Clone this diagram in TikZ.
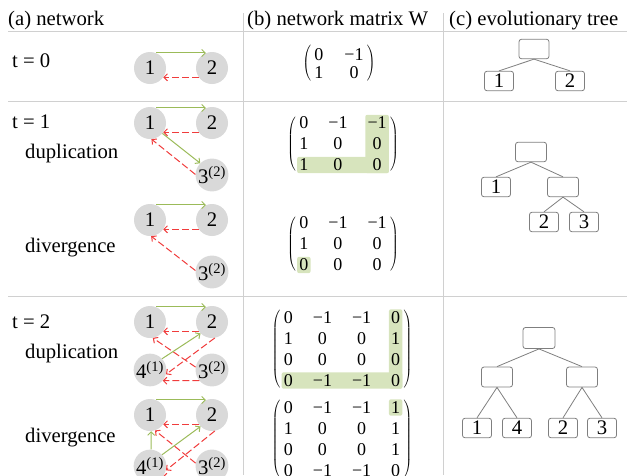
\documentclass[tikz,border=0pt]{standalone}
\usepackage{fontspec}
\setmainfont{Liberation Serif}
\usepackage{tikz}
\usetikzlibrary{arrows.meta, matrix, backgrounds}
\definecolor{actgreen}{HTML}{9BBB59}
\definecolor{repred}{HTML}{F03C3C}
\definecolor{nodegray}{HTML}{D9D9D9}
\definecolor{hlgreen}{HTML}{D7E4BD}
\definecolor{rulegray}{HTML}{D0D0D0}
\definecolor{treegray}{HTML}{7F7F7F}

\begin{document}
\begin{tikzpicture}
	[   x=1pt, y=-1pt,
		font=\fontsize{20.7}{24}\selectfont,
		cnode/.style={circle,fill=nodegray,minimum size=32pt,inner sep=0pt},
		tnode/.style={draw=treegray,line width=0.8pt,rounded corners=2.5pt,minimum width=#1,minimum height=19.5pt,inner sep=0pt},
		tnode/.default=29pt,
		lbl/.style={anchor=base west,inner sep=0pt},
		wmat/.style={matrix of nodes,column sep=16pt,row sep=5pt,inner sep=0pt,
			left delimiter=(,right delimiter=),
			every left delimiter/.style={xshift=3pt},
			every right delimiter/.style={xshift=-3pt},
			font=\fontsize{18}{21}\selectfont,
			nodes={font=\fontsize{18}{21}\selectfont,inner xsep=2pt,inner ysep=1pt,text height=12.5pt,text depth=1.5pt}},
	]
	\tikzset{act arrow/.style={draw=actgreen,line width=1pt,-{Straight Barb[length=3.5pt,width=7pt]}},
		rep arrow/.style={draw=repred,line width=1pt,dash pattern=on 7pt off 3pt,-{Straight Barb[length=3.5pt,width=7pt]}}}
	\useasboundingbox (0,0) rectangle (627,475);
	\clip (0,0) rectangle (627,475);
	
	% column heads and row labels
	\node[lbl] (ha) at (8,25) {(a) network};
	\node[lbl] (hb) at (247,25) {(b) network matrix W};
	\node[lbl] (hc) at (449,25) {(c) evolutionary tree};
	\node[lbl] (t0) at (12,67) {t = 0};
	\node[lbl] (t1) at (12,128) {t = 1};
	\node[lbl] (dup1) at (25,158) {duplication};
	\node[lbl] (div1) at (25,252) {divergence};
	\node[lbl] (t2) at (12,328) {t = 2};
	\node[lbl] (dup2) at (25,358) {duplication};
	\node[lbl] (div2) at (25,442) {divergence};
	
	% networks
	\foreach \p/\y in {a0/68, a1d/123, a1v/220, a2d/322, a2v/415}
	{
		\node[cnode] (\p-1) at (150,\y) {1};
		\node[cnode] (\p-2) at (212,\y) {2};
		\path[act arrow] (\p-1.68) -- (\p-2.112);
		\path[rep arrow] (\p-2.-145) -- (\p-1.-35);
	}
	\foreach \p/\y in {a1d/175, a1v/272, a2d/370, a2v/466}
		\node[cnode] (\p-3) at (212,\y) {3\textsuperscript{(2)}};
	\foreach \p/\y in {a2d/370, a2v/466}
		\node[cnode] (\p-4) at (150,\y) {4\textsuperscript{(1)}};
	
	\path[act arrow] (a1d-1.-40) -- (a1d-3.135);
	\path[rep arrow] (a1d-3.178) -- (a1d-1.-85);
	\path[rep arrow] (a1v-3.175) -- (a1v-1.-86);
	
	\path[rep arrow] (a2d-3.170) -- (a2d-1.-80);
	\path[act arrow] (a2d-4.43) -- (a2d-2.-135);
	\path[rep arrow] (a2d-2.-80) -- (a2d-4.-15);
	\path[rep arrow] (a2d-3.-140) -- (a2d-4.-40);
	
	\path[act arrow] (a2v-4.86) -- (a2v-1.-86);
	\path[act arrow] (a2v-4.43) -- (a2v-2.-135);
	\path[rep arrow] (a2v-3.170) -- (a2v-1.-72);
	\path[rep arrow] (a2v-2.-80) -- (a2v-4.-15);
	\path[rep arrow] (a2v-3.-140) -- (a2v-4.-40);
	
	% network matrices
	\matrix (w0) [wmat,row sep=2pt,column sep=17pt] at (339,64) {0 & −1 \\ 1 & 0 \\};
	\matrix (w1d) [wmat] at (343,144) {0 & −1 & −1 \\ 1 & 0 & 0 \\ 1 & 0 & 0 \\};
	\matrix (w1v) [wmat] at (343,244) {0 & −1 & −1 \\ 1 & 0 & 0 \\ 0 & 0 & 0 \\};
	\matrix (w2d) [wmat] at (342,349) {0 & −1 & −1 & 0 \\ 1 & 0 & 0 & 1 \\ 0 & 0 & 0 & 0 \\ 0 & −1 & −1 & 0 \\};
	\matrix (w2v) [wmat] at (342,439) {0 & −1 & −1 & 1 \\ 1 & 0 & 0 & 1 \\ 0 & 0 & 0 & 1 \\ 0 & −1 & −1 & 0 \\};
	
	% evolutionary trees
	\node[tnode=30pt] (r0) at (534,49) {};
	\node[tnode] (r0-1) at (499,81) {1};
	\node[tnode] (r0-2) at (570,81) {2};
	
	\node[tnode=31pt] (r1) at (531,152) {};
	\node[tnode] (r1-1) at (496,187) {1};
	\node[tnode=31pt] (r1-a) at (563,187) {};
	\node[tnode] (r1-2) at (544,222) {2};
	\node[tnode] (r1-3) at (584,222) {3};
	
	\node[tnode=32pt,minimum height=21pt] (r2) at (539,338) {};
	\node[tnode=31pt,minimum height=20pt] (r2-a) at (497,377) {};
	\node[tnode=31pt,minimum height=20pt] (r2-b) at (582,377) {};
	\node[tnode] (r2-1) at (477,428) {1};
	\node[tnode] (r2-4) at (517,428) {4};
	\node[tnode] (r2-2) at (563,428) {2};
	\node[tnode] (r2-3) at (602,428) {3};
	
	\foreach \a/\b in {r0/r0-1, r0/r0-2, r1/r1-1, r1/r1-a, r1-a/r1-2, r1-a/r1-3,
		r2/r2-a, r2/r2-b, r2-a/r2-1, r2-a/r2-4, r2-b/r2-2, r2-b/r2-3}
		\path[draw=treegray,line width=0.8pt] (\a.south) -- (\b.north);
	
	% table rules and highlighted entries
	\begin{scope}[on background layer]
		\foreach \y in {31,101,296}
			\draw[rulegray,line width=0.8pt] (8,\y) -- (627,\y);
		\foreach \x in {243,443}
			\draw[rulegray,line width=0.8pt] (\x,13) -- (\x,475);
		\fill[hlgreen,rounded corners=2pt] (w1d-1-3.north west) rectangle (w1d-1-3.east |- w1d-3-3.south);
		\fill[hlgreen,rounded corners=2pt] (w1d-3-1.north west) rectangle (w1d-1-3.east |- w1d-3-3.south);
		\fill[hlgreen,rounded corners=2pt] (w1v-3-1.north west) rectangle (w1v-3-1.south east);
		\fill[hlgreen,rounded corners=2pt] (w2d-1-4.north west) rectangle (w2d-4-4.south east);
		\fill[hlgreen,rounded corners=2pt] (w2d-4-1.north west) rectangle (w2d-4-4.south east);
		\fill[hlgreen,rounded corners=2pt] (w2v-1-4.north west) rectangle (w2v-1-4.south east);
	\end{scope}
\end{tikzpicture}
\end{document}
